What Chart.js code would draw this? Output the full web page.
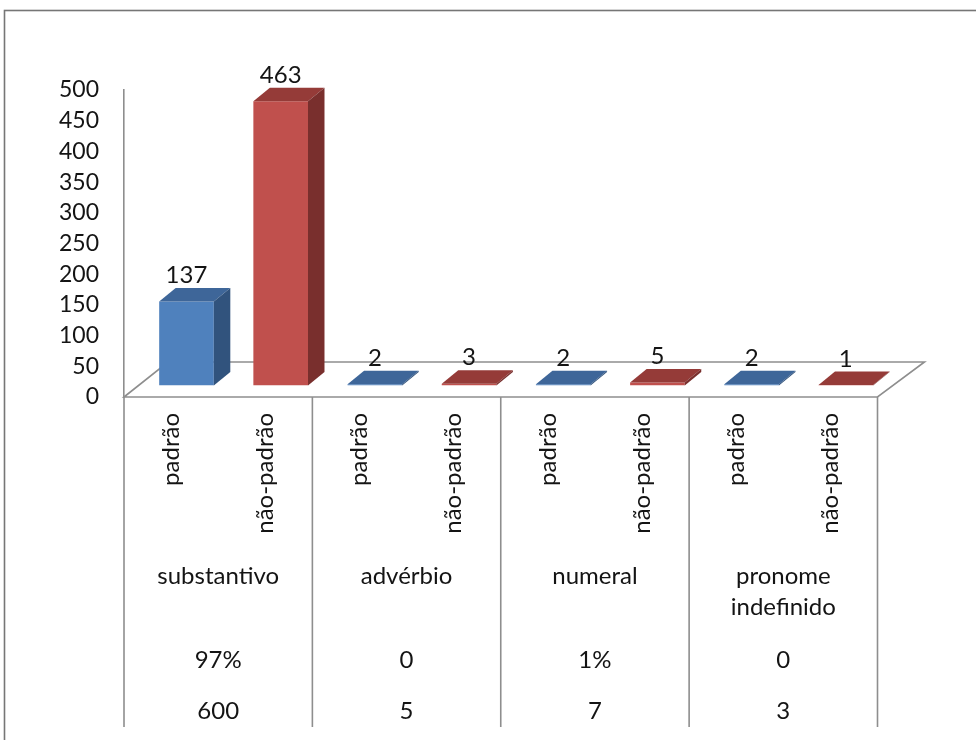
<!DOCTYPE html>
<html>
<head>
<meta charset="utf-8">
<script src="https://cdn.jsdelivr.net/npm/chart.js@4.4.0/dist/chart.umd.min.js"></script>
<style>
  html, body { margin: 0; padding: 0; background: #ffffff; }
  canvas { display: block; }
</style>
</head>
<body>
<canvas id="chart" width="976" height="740"></canvas>
<script>
// Word classes, each split into standard / non-standard forms
const categories = ['substantivo', 'advérbio', 'numeral', ['pronome', 'indefinido']];
const subLabels = ['padrão', 'não-padrão'];
const padrao = [137, 2, 2, 2];
const naoPadrao = [463, 3, 5, 1];
// Extra rows printed under each word class
const percentRow = ['97%', '0', '1%', '0'];
const totalRow = ['600', '5', '7', '3'];
// Value axis
const yMax = 500;
const yStep = 50;

const FONT = "Lato, 'Open Sans', sans-serif";
const TEXT = '#141414';
const LINE = '#8e8e8e';
const SIZE = 24;
const SERIES = [
  { front: '#4F81BD', top: '#3E6699', side: '#31537D' },
  { front: '#C0504D', top: '#953B38', side: '#792F2D' }
];
const SHIFT = { x: 15.4, y: -11.5 };   // bars stand part way back on the floor
const DEPTH = { x: 16.5, y: 13.5 };    // box depth of each bar
const FLOOR = { left: 44, right: 47, back: 35 };
const TABLE_BOTTOM = 727;

// one bar per (class, form) pair
const labels = [];
const values = [];
const seriesOf = [];
categories.forEach((c, i) => {
  labels.push(subLabels[0], subLabels[1]);
  values.push(padrao[i], naoPadrao[i]);
  seriesOf.push(0, 1);
});

function face(ctx, pts, color) {
  ctx.beginPath();
  pts.forEach(([x, y], i) => (i ? ctx.lineTo(x, y) : ctx.moveTo(x, y)));
  ctx.closePath();
  ctx.fillStyle = color;
  ctx.fill();
}

const boxes3d = {
  id: 'boxes3d',
  beforeDraw(chart) {
    const ctx = chart.ctx;
    ctx.save();
    ctx.strokeStyle = '#767676';
    ctx.lineWidth = 1.6;
    ctx.strokeRect(4.5, 10.5, 1000, 800);
    ctx.restore();
  },
  beforeDatasetsDraw(chart) {
    const { ctx, chartArea: a } = chart;
    ctx.save();
    ctx.strokeStyle = LINE;
    ctx.lineWidth = 1.6;
    ctx.beginPath();
    ctx.moveTo(a.left, a.bottom);
    ctx.lineTo(a.left + FLOOR.left, a.bottom - FLOOR.back);
    ctx.lineTo(a.right + FLOOR.right, a.bottom - FLOOR.back);
    ctx.lineTo(a.right, a.bottom);
    ctx.closePath();
    ctx.stroke();
    ctx.restore();
    ctx.save();
    ctx.translate(SHIFT.x, SHIFT.y);
  },
  afterDatasetsDraw(chart) {
    const ctx = chart.ctx;
    const meta = chart.getDatasetMeta(0);
    meta.data.forEach((bar, i) => {
      const { x, y, base, width } = bar.getProps(['x', 'y', 'base', 'width'], true);
      const l = x - width / 2, r = x + width / 2;
      const s = SERIES[seriesOf[i]];
      face(ctx, [[l, y], [r, y], [r + DEPTH.x, y - DEPTH.y], [l + DEPTH.x, y - DEPTH.y]], s.top);
      face(ctx, [[r, y], [r + DEPTH.x, y - DEPTH.y], [r + DEPTH.x, base - DEPTH.y], [r, base]], s.side);
      ctx.fillStyle = TEXT;
      ctx.font = `${SIZE}px ${FONT}`;
      ctx.textAlign = 'center';
      ctx.textBaseline = 'middle';
      ctx.fillText(String(values[i]), x, y - DEPTH.y - 12.5);
    });
    ctx.restore();
  },
  afterDraw(chart) {
    const { ctx, chartArea: a } = chart;
    const xs = chart.scales.x;
    const slot = (a.right - a.left) / labels.length;
    ctx.save();
    ctx.strokeStyle = LINE;
    ctx.lineWidth = 1.6;
    ctx.beginPath();
    for (let g = 0; g <= categories.length; g++) {
      const px = g < categories.length ? xs.getPixelForValue(g * 2) - slot / 2 : a.right;
      ctx.moveTo(px, a.bottom);
      ctx.lineTo(px, TABLE_BOTTOM);
    }
    ctx.stroke();
    ctx.fillStyle = TEXT;
    ctx.font = `${SIZE}px ${FONT}`;
    ctx.textAlign = 'center';
    ctx.textBaseline = 'middle';
    categories.forEach((c, g) => {
      const cx = (xs.getPixelForValue(g * 2) + xs.getPixelForValue(g * 2 + 1)) / 2;
      const lines = Array.isArray(c) ? c : [c];
      lines.forEach((t, k) => ctx.fillText(t, cx, 576 + k * 31.5));
      ctx.fillText(percentRow[g], cx, 660);
      ctx.fillText(totalRow[g], cx, 711);
    });
    ctx.restore();
  }
};

new Chart(document.getElementById('chart'), {
  type: 'bar',
  data: {
    labels,
    datasets: [{
      data: values,
      backgroundColor: seriesOf.map(k => SERIES[k].front),
      borderWidth: 0,
      barPercentage: 0.58,
      categoryPercentage: 1
    }]
  },
  options: {
    responsive: false,
    animation: false,
    devicePixelRatio: 1,
    layout: { padding: { left: 0, right: 98.5, top: 90, bottom: 0 } },
    plugins: { legend: { display: false }, tooltip: { enabled: false } },
    scales: {
      x: {
        grid: { display: false, drawTicks: false },
        border: { display: false },
        afterFit(scale) { scale.height = 343; },
        ticks: {
          autoSkip: false,
          minRotation: 90,
          maxRotation: 90,
          padding: 16,
          color: TEXT,
          font: { family: FONT, size: SIZE }
        }
      },
      y: {
        min: 0,
        max: yMax,
        grid: { display: false, drawTicks: false },
        border: { display: true, color: LINE, width: 1.6 },
        afterFit(scale) { scale.width = 124; },
        ticks: {
          stepSize: yStep,
          padding: 25,
          color: TEXT,
          font: { family: FONT, size: 23 }
        }
      }
    }
  },
  plugins: [boxes3d]
});
</script>
</body>
</html>
